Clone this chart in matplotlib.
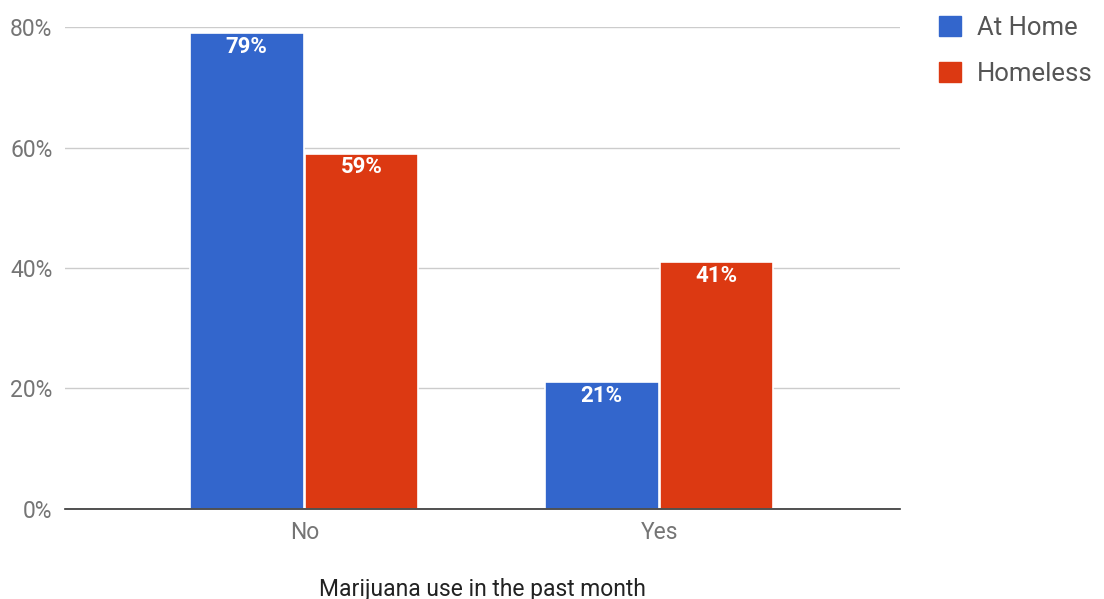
import matplotlib.pyplot as plt
import matplotlib.patches as mpatches
import numpy as np

plt.rcParams['font.family'] = ['Roboto', 'DejaVu Sans']

categories = ["No", "Yes"]
at_home = [79, 21]
homeless = [59, 41]
series_names = ["At Home", "Homeless"]
yticks = [0, 20, 40, 60, 80]

blue = "#3366CC"
red = "#DC3912"
grey = "#757575"

fig = plt.figure(figsize=(11.04, 5.99), dpi=100)
ax = fig.add_axes([0.0589, 0.1503, 0.7563, 0.8046])

x = np.arange(len(categories))
w = 0.32
b1 = ax.bar(x - w / 2 - 0.003, at_home, w, color=blue, edgecolor="white", linewidth=1.2)
b2 = ax.bar(x + w / 2, homeless, w, color=red, edgecolor="white", linewidth=1.2)

for bars, vals in [(b1, at_home), (b2, homeless)]:
    for rect, v in zip(bars, vals):
        ax.annotate(f"{v}%", (rect.get_x() + rect.get_width() / 2, v),
                    xytext=(0, -2), textcoords="offset points",
                    ha="center", va="top", color="white", fontsize=16,
                    fontweight="bold")

ax.set_xlim(-0.675, 1.677)
ax.set_ylim(0, 80)
ax.set_yticks(yticks)
ax.set_yticklabels([f"{t}%" for t in yticks])
ax.set_xticks(x)
ax.set_xticklabels(categories)
ax.tick_params(axis="both", length=0, colors=grey, labelsize=16.5)
ax.tick_params(axis="y", pad=9)
ax.tick_params(axis="x", pad=9)
ax.grid(axis="y", color="#cccccc", linewidth=1)
ax.set_axisbelow(True)
for s in ["top", "right", "left"]:
    ax.spines[s].set_visible(False)
ax.spines["bottom"].set_color("#333333")
ax.spines["bottom"].set_linewidth(1.2)
ax.spines["bottom"].set_zorder(3)

ax.set_xlabel("Marijuana use in the past month", color="#222222", fontsize=16.5, labelpad=24)

handles = [mpatches.Patch(color=blue, label=series_names[0]),
           mpatches.Patch(color=red, label=series_names[1])]
fig.legend(handles=handles, loc="upper left", bbox_to_anchor=(0.830, 1.012),
           frameon=False, fontsize=18.5, handlelength=0.85, handleheight=0.85,
           handletextpad=0.6, labelspacing=0.85, labelcolor="#555555")

fig.savefig("out.png", dpi=100)
